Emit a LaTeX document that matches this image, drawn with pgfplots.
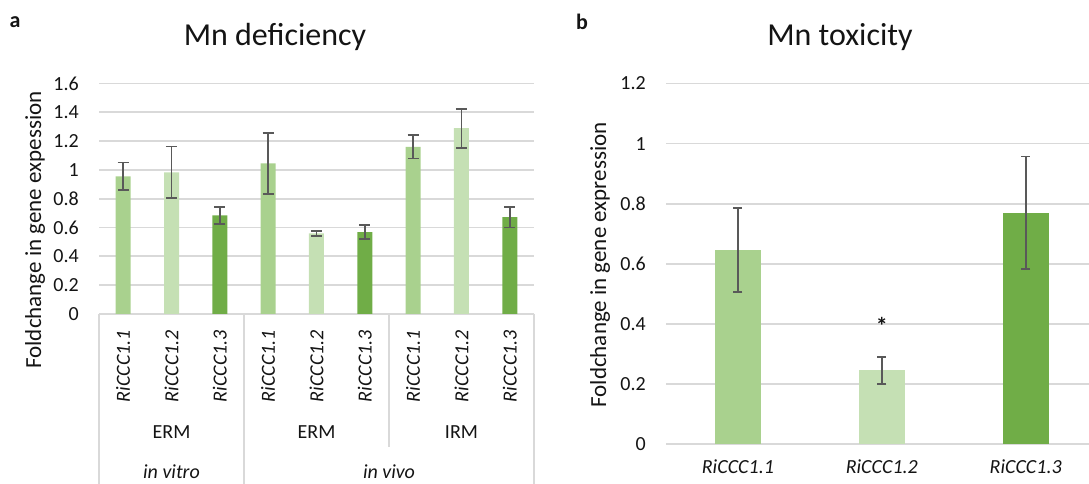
\documentclass[border=0pt]{standalone}
\usepackage{fontspec}
\setmainfont{Carlito}
\usepackage{pgfplots}
\pgfplotsset{compat=1.18}
\definecolor{gA}{HTML}{A9D18E}
\definecolor{gB}{HTML}{C5E0B4}
\definecolor{gC}{HTML}{70AD47}
\definecolor{errc}{HTML}{595959}
\definecolor{gridc}{HTML}{D9D9D9}
\definecolor{txt}{HTML}{141414}
\pgfplotsset{
  common/.style={
    scale only axis, clip=false,
    axis line style={draw=none},
    major tick length=0pt,
    tick style={draw=none},
    ymajorgrids, grid style={gridc, line width=1.8pt},
    ymin=0,
    /pgf/number format/assume math mode=true,
    tick label style={font=\fontsize{20}{24}\selectfont, text=txt},
    yticklabel style={anchor=east, inner sep=0pt, /pgf/number format/fixed},
    yticklabel shift=20pt,
  },
  eb/.style={error bars/.cd, y dir=both, y explicit,
    error bar style={errc, line width=1.8pt},
    error mark options={rotate=90, errc, mark size=#1, line width=1.8pt}},
}
\begin{document}
\begin{tikzpicture}
\path[use as bounding box] (0,0) rectangle (1089pt,484pt);
% ---------------- panel a
\begin{axis}[common,
  at={(99pt,170pt)}, anchor=south west,
  width=435pt, height=230.5pt,
  xmin=-0.5, xmax=8.5, ymax=1.6,
  ytick={0,0.2,0.4,0.6,0.8,1,1.2,1.4,1.6},
  xtick={0,1,2,3,4,5,6,7,8},
  xticklabels={RiCCC1.1,RiCCC1.2,RiCCC1.3,RiCCC1.1,RiCCC1.2,RiCCC1.3,RiCCC1.1,RiCCC1.2,RiCCC1.3},
  xticklabel style={rotate=90, anchor=east, inner sep=0pt, font=\itshape\fontsize{20}{24}\selectfont},
  xticklabel shift=16pt,
]
\addplot[ybar, bar width=15pt, bar shift=0pt, fill=gA, draw=none, eb=5.5pt]
  coordinates {(0,0.955) +- (0,0.097) (3,1.045) +- (0,0.21) (6,1.16) +- (0,0.08)};
\addplot[ybar, bar width=15pt, bar shift=0pt, fill=gB, draw=none, eb=5.5pt]
  coordinates {(1,0.983) +- (0,0.18) (4,0.56) +- (0,0.016) (7,1.29) +- (0,0.135)};
\addplot[ybar, bar width=15pt, bar shift=0pt, fill=gC, draw=none, eb=5.5pt]
  coordinates {(2,0.685) +- (0,0.06) (5,0.568) +- (0,0.05) (8,0.673) +- (0,0.072)};
\draw[gridc, line width=1.8pt] (axis cs:-0.5,0) -- ++(0pt,-172pt);
\draw[gridc, line width=1.8pt] (axis cs:2.5,0) -- ++(0pt,-172pt);
\draw[gridc, line width=1.8pt] (axis cs:8.5,0) -- ++(0pt,-172pt);
\draw[gridc, line width=1.8pt] (axis cs:5.5,0) -- ++(0pt,-133pt);
\node[font=\fontsize{20}{24}\selectfont, text=txt] at ([yshift=-118pt]axis cs:1,0) {ERM};
\node[font=\fontsize{20}{24}\selectfont, text=txt] at ([yshift=-118pt]axis cs:4,0) {ERM};
\node[font=\fontsize{20}{24}\selectfont, text=txt] at ([yshift=-118pt]axis cs:7,0) {IRM};
\node[font=\itshape\fontsize{20}{24}\selectfont, text=txt] at ([yshift=-158pt]axis cs:1,0) {in vitro};
\node[font=\itshape\fontsize{20}{24}\selectfont, text=txt] at ([yshift=-158pt]axis cs:5.5,0) {in vivo};
\end{axis}
% ---------------- panel b
\begin{axis}[common,
  at={(666pt,40pt)}, anchor=south west,
  width=423pt, height=360.5pt,
  xmin=-0.5, xmax=2.44, ymax=1.2,
  ytick={0,0.2,0.4,0.6,0.8,1,1.2},
  xtick={0,1,2},
  xticklabels={RiCCC1.1,RiCCC1.2,RiCCC1.3},
  xticklabel style={anchor=north, inner sep=0pt, font=\itshape\fontsize{20}{24}\selectfont},
  xticklabel shift=16pt,
]
\addplot[ybar, bar width=45.6pt, bar shift=0pt, fill=gA, draw=none, eb=4.5pt]
  coordinates {(0,0.645) +- (0,0.14)};
\addplot[ybar, bar width=45.6pt, bar shift=0pt, fill=gB, draw=none, eb=4.5pt]
  coordinates {(1,0.245) +- (0,0.044)};
\addplot[ybar, bar width=45.6pt, bar shift=0pt, fill=gC, draw=none, eb=4.5pt]
  coordinates {(2,0.77) +- (0,0.187)};
\node[font=\bfseries\fontsize{24}{24}\selectfont, text=txt] at ([yshift=-4pt]axis cs:1,0.405) {*};
\end{axis}
% ---------------- texts
\node[font=\fontsize{32}{36}\selectfont, text=txt] at (275pt,447pt) {Mn deficiency};
\node[font=\fontsize{32}{36}\selectfont, text=txt] at (840pt,447pt) {Mn toxicity};
\node[font=\bfseries\fontsize{22}{24}\selectfont, text=txt] at (15pt,462pt) {a};
\node[font=\bfseries\fontsize{22}{24}\selectfont, text=txt] at (582pt,462pt) {b};
\node[rotate=90, font=\fontsize{23}{26}\selectfont, text=txt] at (35pt,254pt) {Foldchange in gene expession};
\node[rotate=90, font=\fontsize{23}{26}\selectfont, text=txt] at (600pt,219pt) {Foldchange in gene expression};
\end{tikzpicture}
\end{document}
